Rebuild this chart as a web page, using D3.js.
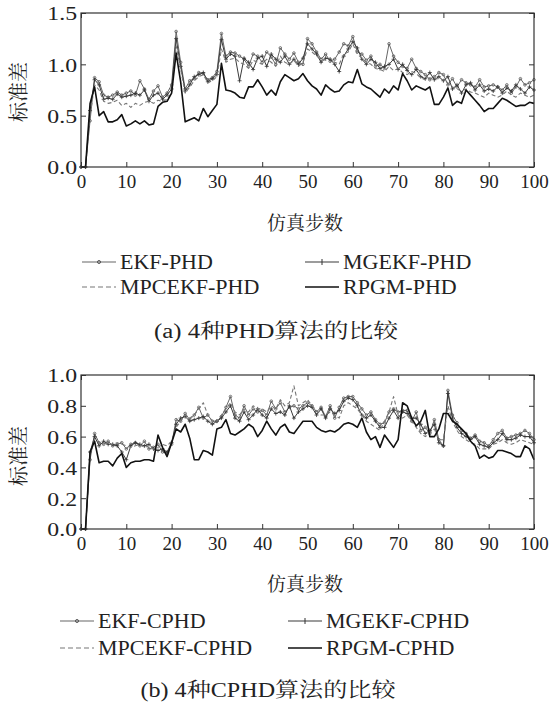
<!DOCTYPE html>
<html>
<head>
<meta charset="utf-8">
<script src="https://cdn.jsdelivr.net/npm/d3@7"></script>
<style>
  html, body { margin: 0; padding: 0; background: #fff; }
  svg { display: block; }
  text { font-family: "Liberation Serif", "Noto Serif CJK SC", "Noto Sans CJK SC", serif; fill: #222; }
</style>
</head>
<body>
<svg id="fig" width="550" height="713"></svg>
<script>
// Simulation steps 0..100
const steps = d3.range(0, 101);

// (a) PHD filters: standard deviation per step
const phdEKF = [0,0,0.45,0.87,0.83,0.70,0.68,0.70,0.73,0.70,
  0.72,0.74,0.70,0.84,0.76,0.66,0.74,0.79,0.68,0.72,
  0.80,1.32,1.02,0.76,0.84,0.86,0.92,0.91,0.85,0.87,
  0.93,1.30,1.08,1.12,1.11,1.08,1.05,0.98,1.10,1.08,
  1.02,1.12,1.07,1.00,1.16,1.10,1.05,1.11,1.02,1.00,
  1.25,1.20,1.12,1.05,1.10,1.03,1.05,1.12,1.20,1.18,
  1.27,1.12,1.10,1.04,1.08,0.98,1.00,0.96,1.20,1.08,
  1.02,0.98,0.96,1.05,0.96,0.93,0.90,0.85,0.88,0.92,
  0.90,0.80,0.86,0.78,0.85,0.82,0.80,0.78,0.85,0.78,
  0.79,0.80,0.78,0.75,0.80,0.72,0.78,0.86,0.80,0.82,
  0.85];
const phdMGEKF = [0,0,0.55,0.85,0.80,0.66,0.67,0.66,0.71,0.68,
  0.69,0.70,0.72,0.70,0.75,0.64,0.70,0.72,0.66,0.70,
  0.76,1.25,0.98,0.74,0.80,0.88,0.90,0.92,0.83,0.86,
  0.90,1.24,1.05,1.10,1.08,0.84,1.06,1.02,0.95,1.06,
  1.08,0.98,1.10,1.05,1.02,1.08,1.00,1.05,1.00,1.06,
  1.20,1.15,1.10,1.02,1.06,1.05,1.00,0.93,1.08,1.15,
  1.22,1.16,1.05,1.00,1.05,1.02,0.96,0.98,1.00,1.05,
  0.95,1.00,0.94,0.90,0.95,0.88,0.86,0.92,0.85,0.88,
  0.84,0.88,0.76,0.80,0.72,0.80,0.82,0.75,0.80,0.74,
  0.76,0.74,0.78,0.72,0.77,0.74,0.80,0.76,0.72,0.78,
  0.75];
const phdMPCEKF = [0,0,0.50,0.80,0.75,0.64,0.62,0.63,0.65,0.60,
  0.62,0.58,0.62,0.60,0.63,0.64,0.62,0.65,0.64,0.66,
  0.72,1.18,0.95,0.72,0.78,0.84,0.88,0.90,0.82,0.84,
  0.88,1.15,1.02,1.05,1.06,1.02,1.00,0.96,1.04,1.02,
  1.00,1.05,1.02,0.98,1.08,1.02,1.00,1.04,0.98,1.02,
  1.15,1.12,1.08,1.05,1.04,1.06,1.02,1.00,1.10,1.12,
  1.20,1.10,1.06,1.02,1.00,0.96,0.95,0.93,0.98,0.94,
  0.96,0.92,0.90,0.93,0.91,0.87,0.85,0.87,0.86,0.86,
  0.85,0.82,0.78,0.76,0.74,0.76,0.73,0.72,0.70,0.68,
  0.72,0.70,0.68,0.70,0.74,0.70,0.68,0.72,0.70,0.68,
  0.70];
const phdRPGM = [0,0,0.62,0.78,0.50,0.54,0.44,0.44,0.46,0.51,
  0.40,0.42,0.45,0.42,0.45,0.41,0.42,0.59,0.63,0.64,
  0.72,1.11,0.83,0.44,0.46,0.48,0.45,0.57,0.49,0.55,
  0.61,1.01,0.75,0.74,0.72,0.68,0.67,0.78,0.78,0.85,
  0.78,0.70,0.75,0.70,0.83,0.90,0.87,0.84,0.86,0.91,
  0.84,0.79,0.76,0.70,0.80,0.76,0.73,0.74,0.80,0.83,
  0.82,0.95,0.81,0.78,0.76,0.72,0.68,0.76,0.72,0.79,
  0.75,0.91,0.84,0.75,0.79,0.77,0.75,0.78,0.61,0.61,
  0.68,0.77,0.60,0.64,0.62,0.75,0.70,0.65,0.60,0.54,
  0.57,0.57,0.62,0.67,0.65,0.62,0.59,0.60,0.60,0.63,
  0.62];

// (b) CPHD filters: standard deviation per step
const cphdEKF = [0,0,0.45,0.62,0.56,0.55,0.57,0.54,0.55,0.56,
  0.52,0.55,0.56,0.54,0.57,0.52,0.53,0.55,0.50,0.49,
  0.55,0.71,0.70,0.75,0.71,0.74,0.79,0.72,0.74,0.70,
  0.70,0.73,0.79,0.86,0.74,0.72,0.80,0.74,0.78,0.76,
  0.77,0.74,0.83,0.78,0.82,0.76,0.79,0.80,0.78,0.80,
  0.82,0.80,0.76,0.79,0.73,0.80,0.72,0.79,0.85,0.86,
  0.86,0.82,0.78,0.74,0.76,0.71,0.68,0.69,0.76,0.78,
  0.76,0.77,0.77,0.70,0.76,0.64,0.66,0.62,0.71,0.58,
  0.54,0.90,0.74,0.69,0.64,0.62,0.59,0.61,0.57,0.56,
  0.54,0.58,0.62,0.64,0.59,0.60,0.61,0.62,0.64,0.62,
  0.58];
const cphdMGEKF = [0,0,0.50,0.60,0.54,0.57,0.55,0.55,0.54,0.50,
  0.45,0.54,0.56,0.55,0.54,0.55,0.52,0.51,0.52,0.50,
  0.56,0.68,0.72,0.73,0.70,0.71,0.72,0.73,0.70,0.68,
  0.70,0.72,0.76,0.80,0.72,0.70,0.76,0.71,0.74,0.78,
  0.74,0.72,0.78,0.75,0.76,0.74,0.80,0.72,0.76,0.78,
  0.80,0.79,0.74,0.78,0.72,0.78,0.75,0.77,0.83,0.85,
  0.84,0.80,0.74,0.72,0.74,0.70,0.66,0.66,0.72,0.77,
  0.72,0.76,0.75,0.72,0.72,0.68,0.62,0.64,0.68,0.56,
  0.54,0.88,0.72,0.66,0.62,0.60,0.58,0.60,0.55,0.54,
  0.53,0.56,0.58,0.62,0.58,0.58,0.59,0.61,0.60,0.60,
  0.56];
const cphdMPCEKF = [0,0,0.48,0.58,0.56,0.56,0.55,0.55,0.56,0.55,
  0.54,0.53,0.54,0.55,0.53,0.54,0.52,0.53,0.55,0.54,
  0.57,0.66,0.70,0.74,0.72,0.74,0.78,0.82,0.74,0.70,
  0.70,0.74,0.78,0.82,0.76,0.74,0.78,0.76,0.80,0.78,
  0.78,0.76,0.80,0.78,0.84,0.80,0.82,0.93,0.80,0.82,
  0.84,0.80,0.77,0.74,0.74,0.76,0.74,0.72,0.80,0.82,
  0.80,0.78,0.74,0.70,0.68,0.66,0.64,0.70,0.76,0.86,
  0.74,0.72,0.74,0.70,0.66,0.62,0.60,0.62,0.65,0.58,
  0.58,0.80,0.70,0.64,0.60,0.58,0.56,0.55,0.52,0.52,
  0.52,0.55,0.56,0.58,0.56,0.55,0.56,0.58,0.57,0.56,
  0.55];
const cphdRPGM = [0,0,0.50,0.57,0.43,0.44,0.44,0.41,0.46,0.49,
  0.40,0.43,0.44,0.44,0.45,0.45,0.44,0.61,0.53,0.47,
  0.56,0.65,0.63,0.68,0.59,0.45,0.45,0.51,0.50,0.48,
  0.65,0.66,0.71,0.62,0.61,0.63,0.65,0.68,0.66,0.60,
  0.64,0.70,0.65,0.61,0.66,0.68,0.63,0.62,0.66,0.70,
  0.70,0.70,0.66,0.64,0.63,0.64,0.63,0.65,0.68,0.69,
  0.68,0.66,0.72,0.63,0.58,0.60,0.53,0.61,0.57,0.53,
  0.58,0.82,0.80,0.72,0.67,0.70,0.77,0.60,0.60,0.65,
  0.75,0.75,0.70,0.68,0.65,0.62,0.57,0.54,0.46,0.48,
  0.46,0.47,0.51,0.51,0.50,0.49,0.47,0.47,0.54,0.52,
  0.45];

const xTicks = [0, 10, 20, 30, 40, 50, 60, 70, 80, 90, 100];
const phdYTicks = [0, 0.5, 1.0, 1.5];
const cphdYTicks = [0, 0.2, 0.4, 0.6, 0.8, 1.0];
const phdNames = ["EKF-PHD", "MGEKF-PHD", "MPCEKF-PHD", "RPGM-PHD"];
const cphdNames = ["EKF-CPHD", "MGEKF-CPHD", "MPCEKF-CPHD", "RPGM-CPHD"];

// line styles: EKF (dots), MGEKF (plus marks), MPCEKF (dashed), RPGM (solid, heavy)
const styles = [
  { stroke: "#666", width: 1.0, dash: null, marker: "dot" },
  { stroke: "#3a3a3a", width: 1.0, dash: null, marker: "plus" },
  { stroke: "#777", width: 1.1, dash: "4,2.5", marker: null },
  { stroke: "#111", width: 1.6, dash: null, marker: null }
];

const svg = d3.select("#fig");
const plotLeft = 81, plotRight = 534;

// widen a text element horizontally by factor k
function stretch(sel, k) {
  sel.each(function () {
    const w = this.getComputedTextLength();
    d3.select(this).attr("textLength", w * k).attr("lengthAdjust", "spacingAndGlyphs");
  });
}

function drawPanel(cfg) {
  const g = svg.append("g");
  const x = d3.scaleLinear().domain([0, 100]).range([plotLeft, plotRight]);
  const y = d3.scaleLinear().domain(cfg.yDomain).range([cfg.bottom, cfg.top]);
  const tickLen = 5;

  const styleTicks = (ag, size) => {
    ag.select(".domain").remove();
    ag.selectAll(".tick line").attr("stroke", "#333").attr("stroke-width", 1);
    ag.selectAll(".tick text").attr("font-size", size).attr("fill", "#222");
  };

  // bottom axis with labels, inward ticks
  const xb = g.append("g").attr("transform", `translate(0,${cfg.bottom})`)
    .call(d3.axisBottom(x).tickValues(xTicks).tickSizeInner(-tickLen).tickSizeOuter(0).tickPadding(8));
  styleTicks(xb, 19);
  // top axis, ticks only
  const xt = g.append("g").attr("transform", `translate(0,${cfg.top})`)
    .call(d3.axisTop(x).tickValues(xTicks).tickSizeInner(-tickLen).tickSizeOuter(0).tickFormat(""));
  styleTicks(xt, 19);
  // left axis with labels
  const yl = g.append("g").attr("transform", `translate(${plotLeft},0)`)
    .call(d3.axisLeft(y).tickValues(cfg.yTicks).tickSizeInner(-tickLen).tickSizeOuter(0)
      .tickPadding(4).tickFormat(d3.format(".1f")));
  styleTicks(yl, 19);
  yl.selectAll(".tick text").attr("dy", "0.36em").call(stretch, 1.25);
  // right axis, ticks only
  const yr = g.append("g").attr("transform", `translate(${plotRight},0)`)
    .call(d3.axisRight(y).tickValues(cfg.yTicks).tickSizeInner(-tickLen).tickSizeOuter(0).tickFormat(""));
  styleTicks(yr, 19);

  // series
  const line = d3.line().x((d, i) => x(steps[i])).y(d => y(d));
  cfg.series.forEach((vals, k) => {
    const s = styles[k];
    g.append("path").datum(vals)
      .attr("d", line).attr("fill", "none")
      .attr("stroke", s.stroke).attr("stroke-width", s.width)
      .attr("stroke-dasharray", s.dash).attr("stroke-linejoin", "round");
    if (s.marker === "dot") {
      g.append("g").selectAll("circle").data(vals).join("circle")
        .attr("cx", (d, i) => x(steps[i])).attr("cy", d => y(d))
        .attr("r", 1.3).attr("fill", "none").attr("stroke", "#555").attr("stroke-width", 0.8);
    } else if (s.marker === "plus") {
      g.append("g").selectAll("path").data(vals).join("path")
        .attr("d", (d, i) => {
          const cx = x(steps[i]), cy = y(d), r = 2;
          return `M${cx - r},${cy}H${cx + r}M${cx},${cy - r}V${cy + r}`;
        })
        .attr("stroke", "#333").attr("stroke-width", 0.8);
    }
  });

  // frame
  g.append("rect").attr("x", plotLeft).attr("y", cfg.top)
    .attr("width", plotRight - plotLeft).attr("height", cfg.bottom - cfg.top)
    .attr("fill", "none").attr("stroke", "#333").attr("stroke-width", 1.2);

  // axis titles
  g.append("text").attr("transform", `translate(${cfg.yTitleX},${cfg.yTitleY}) rotate(-90)`)
    .attr("text-anchor", "middle").attr("dy", "0.35em")
    .attr("font-size", 20).text("标准差");
  g.append("text").attr("x", 305).attr("y", cfg.xTitleY)
    .attr("text-anchor", "middle").attr("dy", "0.35em")
    .attr("font-size", 19).text("仿真步数");

  // legend, two columns by two rows
  cfg.names.forEach((name, k) => {
    const col = k % 2, row = Math.floor(k / 2);
    const lx = cfg.legendX[col], ly = cfg.legendY[row];
    const s = styles[k];
    const lg = g.append("g");
    lg.append("line").attr("x1", lx).attr("x2", lx + 34).attr("y1", ly).attr("y2", ly)
      .attr("stroke", k === 3 ? "#111" : s.stroke).attr("stroke-width", k === 3 ? 1.6 : 1.1)
      .attr("stroke-dasharray", s.dash ? "5,3" : null);
    if (s.marker === "dot") {
      lg.append("circle").attr("cx", lx + 17).attr("cy", ly).attr("r", 1.5)
        .attr("fill", "none").attr("stroke", "#444").attr("stroke-width", 0.9);
    } else if (s.marker === "plus") {
      lg.append("path").attr("d", `M${lx + 17},${ly - 3}V${ly + 3}`)
        .attr("stroke", "#333").attr("stroke-width", 1);
    }
    lg.append("text").attr("x", lx + 38).attr("y", ly).attr("dy", "0.35em")
      .attr("font-size", 20).text(name).call(stretch, 1.1);
  });

  // caption
  g.append("text").attr("x", cfg.captionX).attr("y", cfg.captionY)
    .attr("text-anchor", "middle").attr("dy", "0.35em")
    .attr("font-size", 20).text(cfg.caption)
    .each(function () {
      d3.select(this).attr("textLength", cfg.captionWidth).attr("lengthAdjust", "spacingAndGlyphs");
    });
}

drawPanel({
  top: 13, bottom: 167, yDomain: [0, 1.5], yTicks: phdYTicks,
  series: [phdEKF, phdMGEKF, phdMPCEKF, phdRPGM], names: phdNames,
  yTitleX: 19, yTitleY: 92, xTitleY: 223,
  legendX: [82, 305], legendY: [262, 287],
  caption: "(a)  4种PHD算法的比较", captionX: 276, captionY: 331, captionWidth: 244
});

drawPanel({
  top: 375, bottom: 529, yDomain: [0, 1.0], yTicks: cphdYTicks,
  series: [cphdEKF, cphdMGEKF, cphdMPCEKF, cphdRPGM], names: cphdNames,
  yTitleX: 19, yTitleY: 456, xTitleY: 584,
  legendX: [60, 288], legendY: [621, 648],
  caption: "(b)  4种CPHD算法的比较", captionX: 268, captionY: 690, captionWidth: 255
});
</script>
</body>
</html>
